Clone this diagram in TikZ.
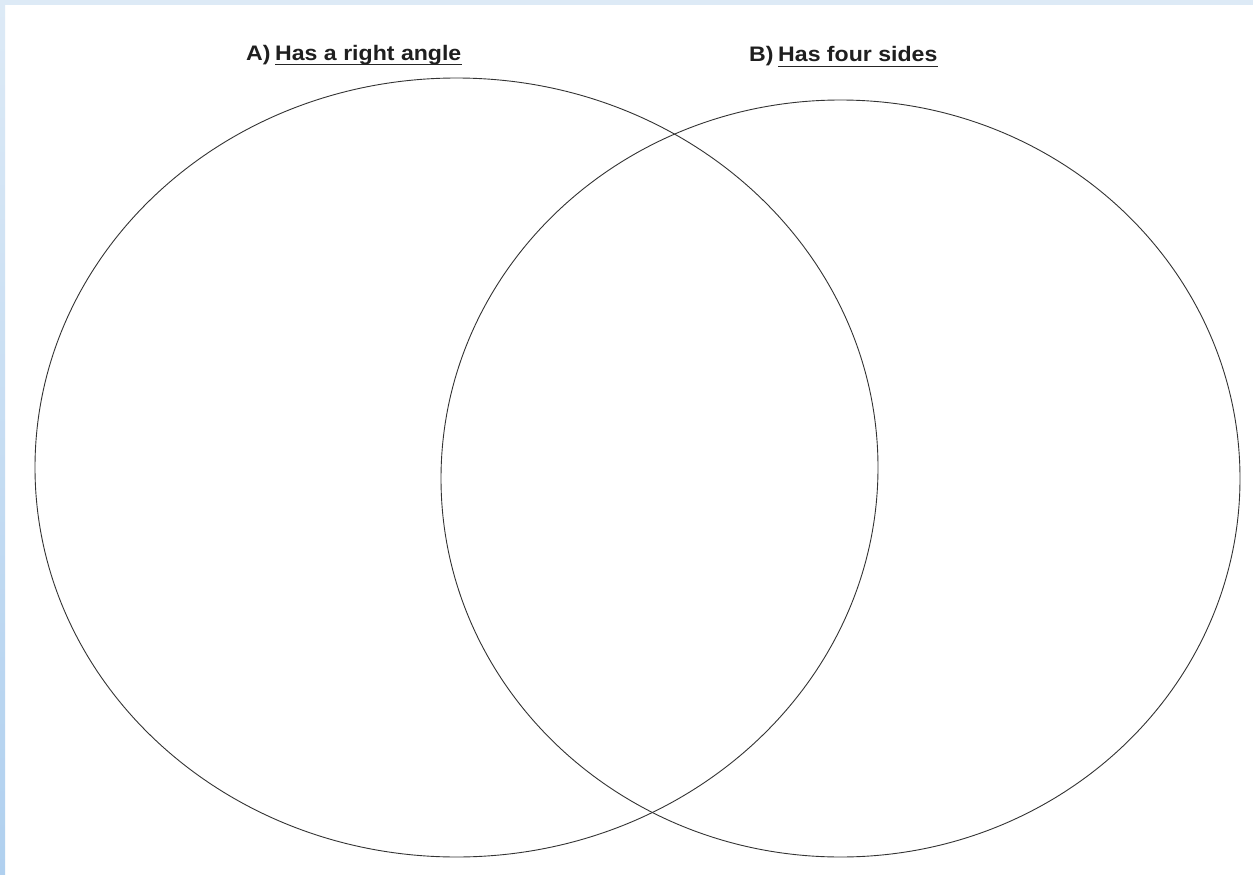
\documentclass[tikz,border=0pt]{standalone}
\usepackage{fontspec}
\setmainfont{Liberation Sans}
\begin{document}
\begin{tikzpicture}[x=1pt,y=-1pt,
  ring/.style={draw=black!80,line width=0.9pt},
  lbl/.style={font=\fontsize{21}{24}\selectfont\bfseries,text=black!88,inner sep=0pt,anchor=base west,xscale=1.1},
  uline/.style={draw=black!85,line width=1.8pt}]
\useasboundingbox (0,0) rectangle (1253,875);
\fill[white] (0,0) rectangle (1253,875);
\fill[color={rgb,255:red,221;green,234;blue,246}] (0,0) rectangle (1253,5);
\shade[top color={rgb,255:red,221;green,234;blue,246},bottom color={rgb,255:red,176;green,208;blue,239}] (0,0) rectangle (5,875);
\draw[ring] (456.5,467.5) ellipse [x radius=421.5, y radius=389.5];
\draw[ring] (840.5,478.5) ellipse [x radius=399.5, y radius=378.5];
\node[lbl] (pa) at (246,60) {A)};
\node[lbl] (la) at (275,60) {Has a right angle};
\node[lbl] (pb) at (749,62) {B)};
\node[lbl] (lb) at (778,62) {Has four sides};
\draw[uline] ([yshift=-4.5pt]la.base west) -- ([yshift=-4.5pt]la.base east);
\draw[uline] ([yshift=-4.5pt]lb.base west) -- ([yshift=-4.5pt]lb.base east);
\end{tikzpicture}
\end{document}
